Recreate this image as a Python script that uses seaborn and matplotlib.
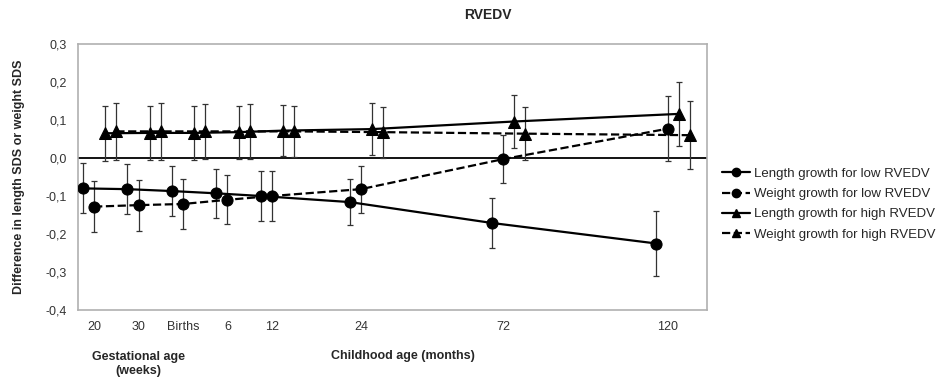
import matplotlib
matplotlib.use("Agg")
import matplotlib.pyplot as plt
import seaborn as sns
import numpy as np
import pandas as pd
from matplotlib.lines import Line2D

sns.set_style("white")
plt.rcParams['font.family'] = ['Liberation Sans', 'DejaVu Sans']

# ---- data ----
time_labels = ["20", "30", "Births", "6", "12", "24", "72", "120"]
time_pos = [0, 1, 2, 3, 4, 6, 9.2, 12.9]

series_names = ["Length growth for low RVEDV", "Weight growth for low RVEDV",
                "Length growth for high RVEDV", "Weight growth for high RVEDV"]

length_low = [-0.080, -0.082, -0.087, -0.093, -0.100, -0.116, -0.171, -0.225]
length_low_err = [0.066, 0.065, 0.066, 0.065, 0.065, 0.060, 0.065, 0.085]

weight_low = [-0.128, -0.124, -0.121, -0.110, -0.100, -0.082, -0.003, 0.077]
weight_low_err = [0.068, 0.067, 0.066, 0.064, 0.065, 0.062, 0.064, 0.085]

length_high = [0.065, 0.066, 0.066, 0.068, 0.072, 0.076, 0.096, 0.116]
length_high_err = [0.072, 0.072, 0.072, 0.070, 0.068, 0.068, 0.070, 0.085]

weight_high = [0.070, 0.070, 0.070, 0.070, 0.070, 0.068, 0.064, 0.060]
weight_high_err = [0.075, 0.075, 0.073, 0.072, 0.068, 0.067, 0.070, 0.090]

means = [length_low, weight_low, length_high, weight_high]
errs = [length_low_err, weight_low_err, length_high_err, weight_high_err]
dodge = [-0.25, 0.0, 0.25, 0.5]
markers = ["o", "o", "^", "^"]
lstyles = ["-", "--", "-", "--"]

fig = plt.figure(figsize=(9.41, 3.79), dpi=100)
ax = fig.add_axes([0.083, 0.182, 0.668, 0.702])

handles = []
for name, m, e, d, mk, ls in zip(series_names, means, errs, dodge, markers, lstyles):
    x = np.array(time_pos) + d
    df = pd.DataFrame({"x": x, "y": m})
    ax.errorbar(x, m, yerr=e, fmt="none", ecolor="#333333", elinewidth=0.9,
                capsize=2.5, capthick=0.9, zorder=2)
    sns.lineplot(data=df, x="x", y="y", ax=ax, color="black", marker=mk,
                 linestyle=ls, linewidth=1.6, markersize=8,
                 markeredgecolor="black", markerfacecolor="black",
                 legend=False, sort=False, zorder=3)
    handles.append(Line2D([0], [0], color="black", marker=mk, linestyle=ls,
                          linewidth=1.6, markersize=6, label=name))

ax.axhline(0, color="black", linewidth=1.3, zorder=1)

ax.set_xlim(-0.36, 13.78)
ax.set_ylim(-0.4, 0.3)
yt = np.arange(-0.4, 0.31, 0.1)
ax.set_yticks(yt)
ax.set_yticklabels([f"{v:.1f}".replace(".", ",").replace("-0,0", "0,0") for v in yt],
                   fontsize=9, color="#333333")
ax.set_xticks(time_pos)
ax.set_xticklabels(time_labels, fontsize=9, color="#333333")
ax.tick_params(axis="both", length=0, pad=8)
ax.set_xlabel("")
ax.set_ylabel("Difference in length SDS or weight SDS", fontsize=9,
              fontweight="bold", labelpad=15)
for s in ax.spines.values():
    s.set_color("#b0b0b0")
    s.set_linewidth(1.2)

fig.text(0.518, 0.96, "RVEDV", ha="center", va="center", fontsize=10, fontweight="bold")
fig.text(0.147, 0.04, "Gestational age\n(weeks)", ha="center", va="center",
         fontsize=9, fontweight="bold", linespacing=1.15)
fig.text(0.352, 0.062, "Childhood age (months)", ha="left", va="center",
         fontsize=9, fontweight="bold")

fig.legend(handles=handles, loc="upper left", bbox_to_anchor=(0.762, 0.571),
           frameon=False, fontsize=9.5, handlelength=2.1, handletextpad=0.3,
           labelspacing=0.6, borderaxespad=0)

fig.savefig("out.png", dpi=100)
